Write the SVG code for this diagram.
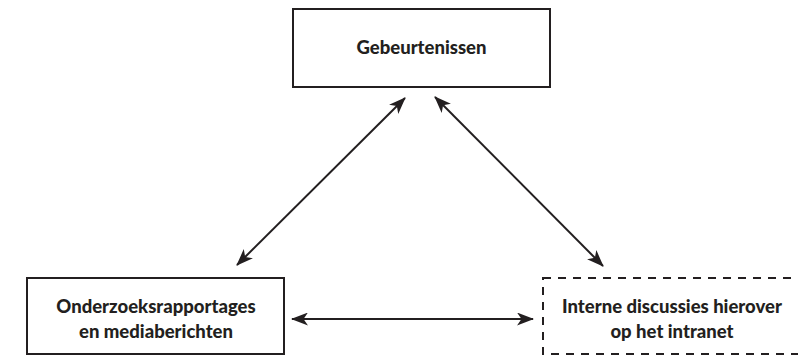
<svg xmlns="http://www.w3.org/2000/svg" width="798" height="356" viewBox="0 0 798 356">
  <style>
    .box { fill: #fff; stroke: #231f20; stroke-width: 2; }
    .dashed { stroke-dasharray: 8 7; }
    .label { font-family: Lato, "Open Sans", sans-serif; font-weight: 900; font-size: 18.5px; fill: #231f20; text-anchor: middle; }
    .link { stroke: #231f20; stroke-width: 2; fill: none; marker-start: url(#head); marker-end: url(#head); }
  </style>
  <defs>
    <marker id="head" viewBox="0 0 17 13" refX="16" refY="6.5" markerWidth="17" markerHeight="13" markerUnits="userSpaceOnUse" orient="auto-start-reverse">
      <path d="M0,0 L17,6.5 L0,13 L4.5,6.5 Z" fill="#231f20"/>
    </marker>
  </defs>
  <rect width="798" height="356" fill="#fff"/>

  <g id="connectors">
    <line class="link" x1="237" y1="265" x2="405" y2="98"/>
    <line class="link" x1="435" y1="97" x2="603" y2="266"/>
    <line class="link" x1="292" y1="319" x2="533" y2="319"/>
  </g>

  <g id="gebeurtenissen">
    <rect class="box" x="293" y="9" width="257" height="78"/>
    <text class="label" x="421.5" y="54">Gebeurtenissen</text>
  </g>

  <g id="onderzoeksrapportages">
    <rect class="box" x="27" y="278" width="257" height="76"/>
    <text class="label" x="156" y="313">Onderzoeksrapportages</text>
    <text class="label" x="156" y="338">en mediaberichten</text>
  </g>

  <g id="interne-discussies">
    <rect class="box dashed" x="543" y="278" width="270" height="76"/>
    <text class="label" x="672" y="313">Interne discussies hierover</text>
    <text class="label" x="672" y="338">op het intranet</text>
  </g>
</svg>
